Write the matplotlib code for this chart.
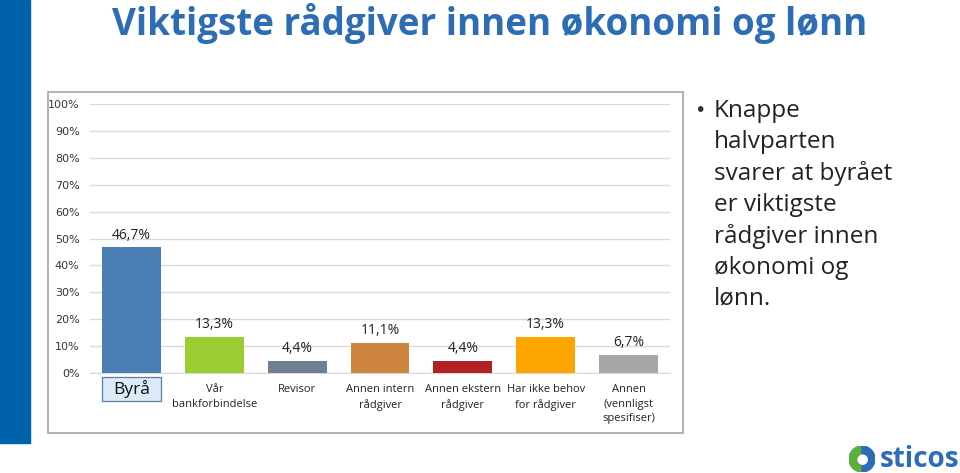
import matplotlib
matplotlib.use("Agg")
import matplotlib.pyplot as plt
from matplotlib.patches import Rectangle, Circle, Wedge
from matplotlib.ticker import FuncFormatter

categories = ["Byrå", "Vår\nbankforbindelse", "Revisor", "Annen intern\nrådgiver",
              "Annen ekstern\nrådgiver", "Har ikke behov\nfor rådgiver",
              "Annen\n(vennligst\nspesifiser)"]
values = [46.7, 13.3, 4.4, 11.1, 4.4, 13.3, 6.7]
labels = ["46,7%", "13,3%", "4,4%", "11,1%", "4,4%", "13,3%", "6,7%"]
colors = ["#4A7FB5", "#9ACD32", "#6E7F91", "#CD853F", "#B22222", "#FFA500", "#A6A6A6"]
yticks = [0, 10, 20, 30, 40, 50, 60, 70, 80, 90, 100]
title = "Viktigste rådgiver innen økonomi og lønn"
bullet_lines = ["Knappe", "halvparten", "svarer at byrået", "er viktigste",
                "rådgiver innen", "økonomi og", "lønn."]

W, H = 960, 473
fig = plt.figure(figsize=(W / 100, H / 100), dpi=100)
fig.patch.set_facecolor("white")

def fx(x): return x / W
def fy(y): return 1 - y / H

# left blue band
fig.patches.append(Rectangle((0, fy(443)), fx(30), fy(0) - fy(443),
                             transform=fig.transFigure, color="#0062AA", zorder=-2))
# chart frame
fig.patches.append(Rectangle((fx(48), fy(433)), fx(683 - 48), fy(92) - fy(433),
                             transform=fig.transFigure, facecolor="white",
                             edgecolor="#A6A6A6", lw=1.2, zorder=-2))

# title
fig.text(fx(490), fy(24), title, ha="center", va="center", fontsize=26.5,
         fontweight="bold", color="#2D6DB5", family="Open Sans")

ax = fig.add_axes([fx(90), fy(373), fx(670 - 90), fy(104) - fy(373)])
ax.set_zorder(2)
ax.patch.set_alpha(0)
x = list(range(len(categories)))
bw = 0.71
ax.bar(x, values, width=bw, color=colors, zorder=3)
ax.set_xlim(-0.5, len(categories) - 0.5)
ax.set_ylim(0, 100)
ax.set_yticks(yticks)
ax.yaxis.set_major_formatter(FuncFormatter(lambda v, p: f"{int(v)}%"))
ax.grid(axis="y", color="#D9D9D9", lw=1, zorder=0)
for s in ["top", "right", "left"]:
    ax.spines[s].set_visible(False)
ax.spines["bottom"].set_color("#D9D9D9")
ax.tick_params(axis="y", length=0, labelsize=8, colors="#333333", pad=7.5)
ax.tick_params(axis="x", length=0)
ax.set_xticks(x)
ax.set_xticklabels([""] + categories[1:], fontsize=8, color="#222222",
                   family="Open Sans", linespacing=1.45)
for lab in ax.get_xticklabels():
    lab.set_verticalalignment("top")
ax.tick_params(axis="x", pad=8)
for xi, v, lab in zip(x, values, labels):
    ax.text(xi, v + 1.8, lab, ha="center", va="bottom", fontsize=10,
            color="#222222", family="Open Sans")

# Byrå label with box
ax.add_patch(Rectangle((-bw / 2, -10.4), bw, 8.9, facecolor="#DCE9F8",
                       edgecolor="#5A7FA8", lw=0.9, clip_on=False, zorder=4))
ax.text(0, -5.9, categories[0], ha="center", va="center", fontsize=12.5,
        color="#111111", family="Open Sans", clip_on=False, zorder=5)

# bullet text
fig.text(fx(700), fy(110), "•", ha="center", va="center", fontsize=14, color="#333333")
for i, line in enumerate(bullet_lines):
    fig.text(fx(714), fy(111 + i * 31.3), line, ha="left", va="center",
             fontsize=17.5, color="#222222", family="Open Sans")

# sticos logo
fig.text(fx(959), fy(459), "sticos", ha="right", va="center", fontsize=20,
         fontweight="bold", color="#2D6DB5", family="Open Sans")
lax = fig.add_axes([fx(849), fy(472), fx(26), fy(446) - fy(472)])
lax.set_xlim(-1, 1); lax.set_ylim(-1, 1); lax.set_aspect("equal"); lax.axis("off")
lax.add_patch(Wedge((0, 0), 1, 90, 270, color="#5DAE3C"))
lax.add_patch(Wedge((0, 0), 1, -90, 90, color="#2D6DB5"))
lax.add_patch(Circle((0.05, -0.05), 0.35, color="white"))

fig.savefig("out.png", dpi=100)
